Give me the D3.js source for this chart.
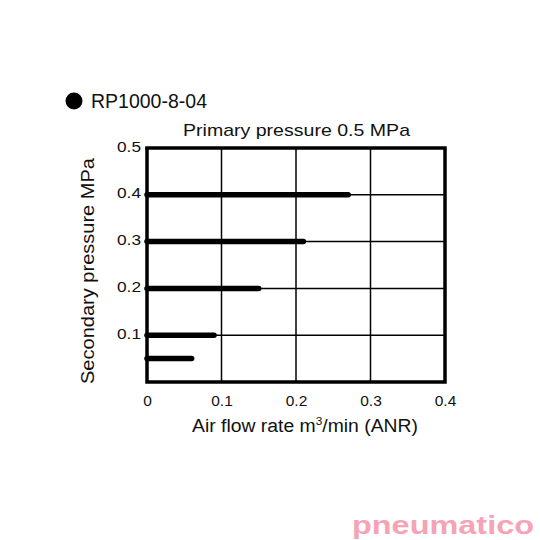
<!DOCTYPE html>
<html><head><meta charset="utf-8">
<script src="https://cdn.jsdelivr.net/npm/d3@7"></script>
<style>body{margin:0;background:#fff}svg{display:block}text{font-family:"Liberation Sans",Arial,sans-serif;fill:#111}</style>
</head><body><svg id="c" width="540" height="540"></svg>
<script>
const xTicks = [0, 0.1, 0.2, 0.3, 0.4];
const yTicks = [0.1, 0.2, 0.3, 0.4, 0.5];
const setPressures = [0.4, 0.3, 0.2, 0.1, 0.05];
const maxFlows = [0.27, 0.21, 0.15, 0.09, 0.06];
const legendLabel = "RP1000-8-04";
const titleText = "Primary pressure 0.5 MPa";

const svg = d3.select("#c");
const x = d3.scaleLinear().domain([0, 0.4]).range([147, 445]);
const y = d3.scaleLinear().domain([0, 0.5]).range([382, 148]);

// grid
svg.append("g").selectAll("line").data(xTicks.slice(1, -1)).join("line")
  .attr("x1", d => x(d)).attr("x2", d => x(d)).attr("y1", y(0.5)).attr("y2", y(0))
  .attr("stroke", "#000").attr("stroke-width", 1.5);
svg.append("g").selectAll("line").data(yTicks.slice(0, -1)).join("line")
  .attr("x1", x(0)).attr("x2", x(0.4)).attr("y1", d => y(d)).attr("y2", d => y(d))
  .attr("stroke", "#000").attr("stroke-width", 1.5);

// axes
const yAxis = d3.axisLeft(y).tickValues(yTicks).tickSize(2).tickPadding(4).tickFormat(d3.format(".1f"));
const gy = svg.append("g").attr("transform", `translate(${x(0)},0)`).call(yAxis);
gy.select(".domain").remove();
gy.selectAll("text").attr("font-size", 15.5).attr("fill", "#111").attr("dy", "0.2em")
  .attr("font-family", "Liberation Sans, Arial, sans-serif")
  .attr("textLength", 24).attr("lengthAdjust", "spacingAndGlyphs");
gy.selectAll("line").attr("stroke-width", 2);

const xAxis = d3.axisBottom(x).tickValues(xTicks).tickSize(0).tickPadding(13).tickFormat(d => d === 0 ? "0" : d3.format(".1f")(d));
const gx = svg.append("g").attr("transform", `translate(0,${y(0)})`).call(xAxis);
gx.select(".domain").remove();
gx.selectAll("text").attr("font-size", 15.5).attr("fill", "#111").attr("font-family", "Liberation Sans, Arial, sans-serif");

// series lines
const line = d3.line().x(d => x(d[0])).y(d => y(d[1]));
svg.append("g").selectAll("path").data(setPressures.map((p, i) => [[0, p], [maxFlows[i], p]])).join("path")
  .attr("d", line).attr("stroke", "#000").attr("stroke-width", 5.5).attr("stroke-linecap", "round").attr("fill", "none");

// frame
svg.append("rect").attr("x", x(0)).attr("y", y(0.5)).attr("width", x(0.4) - x(0)).attr("height", y(0) - y(0.5))
  .attr("fill", "none").attr("stroke", "#000").attr("stroke-width", 3.5);

// titles
svg.append("text").attr("x", 183).attr("y", 136).attr("font-size", 17)
  .attr("textLength", 227).attr("lengthAdjust", "spacingAndGlyphs").text(titleText);
svg.append("text").attr("x", 192).attr("y", 432).attr("font-size", 18)
  .attr("textLength", 226).attr("lengthAdjust", "spacingAndGlyphs")
  .html('Air flow rate m<tspan dy="-7" font-size="11">3</tspan><tspan dy="7">/min (ANR)</tspan>');
svg.append("text").attr("transform", "translate(94,384) rotate(-90)").attr("font-size", 18)
  .attr("textLength", 226).attr("lengthAdjust", "spacingAndGlyphs")
  .text("Secondary pressure MPa");

// legend
svg.append("circle").attr("cx", 74).attr("cy", 101).attr("r", 8.5).attr("fill", "#000");
svg.append("text").attr("x", 91).attr("y", 108).attr("font-size", 19.5).text(legendLabel);

// logo
svg.append("text").attr("x", 352).attr("y", 534).attr("font-size", 26).attr("font-weight", "bold")
  .attr("font-family", "DejaVu Sans, sans-serif").style("fill", "#f5a3b5")
  .attr("textLength", 182).attr("lengthAdjust", "spacingAndGlyphs")
  .text("pneumatico");
</script></body></html>
